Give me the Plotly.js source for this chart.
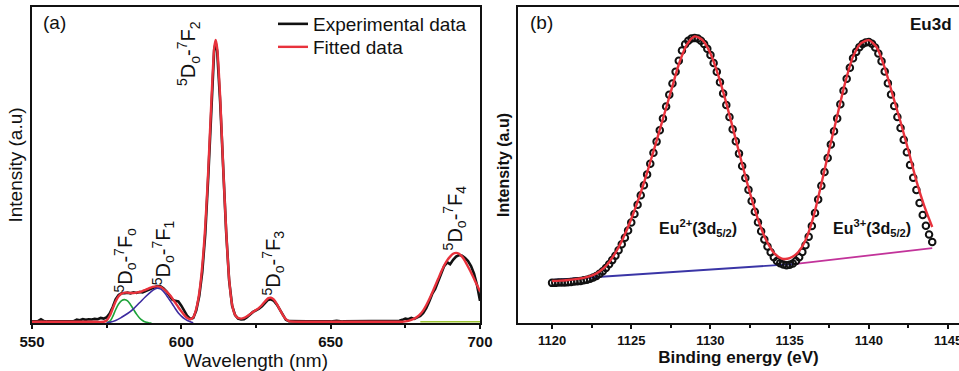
<!DOCTYPE html>
<html>
<head>
<meta charset="utf-8">
<script src="https://cdn.plot.ly/plotly-3.0.1.min.js"></script>
<style>html,body{margin:0;padding:0;background:#fff;}#chart{width:959px;height:371px;}</style>
</head>
<body>
<div id="chart"></div>
<script>
// ---------- Panel (a): PL spectrum ----------
const wlExp = [550,551,552,553,554,555,556,557,558,559,560,561,562,563,564,565,566,567,568,569,570,571,572,573,574,575,576,577,578,579,580,581,582,583,584,585,586,587,588,589,590,591,592,593,594,595,596,597,598,599,600,601,602,603,604,605,606,607,608,609,610,611,611.5,612,613,614,615,616,617,618,619,620,621,622,623,624,625,626,627,628,629,630,631,632,633,634,635,636,638,640,642,644,646,648,650,652,654,656,658,660,662,664,666,668,670,671,672,673,674,675,676,677,678,679,680,681,682,683,684,685,686,687,688,689,690,691,692,693,694,695,696,697,698,699,700];
const intExp = [0.005,0.005,0.006,0.012,0.006,0.005,0.005,0.005,0.005,0.005,0.005,0.005,0.005,0.005,0.006,0.011,0.009,0.012,0.010,0.012,0.011,0.013,0.012,0.016,0.014,0.018,0.030,0.050,0.075,0.089,0.094,0.094,0.096,0.094,0.097,0.095,0.098,0.097,0.101,0.104,0.108,0.113,0.117,0.116,0.110,0.100,0.088,0.074,0.070,0.068,0.055,0.038,0.022,0.013,0.016,0.040,0.085,0.160,0.280,0.460,0.680,0.865,0.886,0.860,0.700,0.480,0.290,0.135,0.055,0.025,0.014,0.011,0.012,0.018,0.027,0.035,0.040,0.045,0.053,0.064,0.073,0.075,0.070,0.058,0.043,0.024,0.010,0.006,0.005,0.006,0.005,0.005,0.006,0.005,0.005,0.007,0.005,0.005,0.005,0.005,0.006,0.005,0.005,0.005,0.005,0.006,0.005,0.007,0.010,0.014,0.012,0.016,0.013,0.018,0.022,0.032,0.047,0.068,0.092,0.108,0.132,0.160,0.180,0.192,0.186,0.200,0.210,0.215,0.213,0.206,0.196,0.180,0.156,0.120,0.070];

const wlFit = [550,560,570,574,575,576,577,578,579,580,581,582,583,584,585,586,587,588,589,590,591,592,593,594,595,596,597,598,599,600,601,602,603,604,605,606,607,608,609,610,611,611.5,612,613,614,615,616,617,618,619,620,621,622,623,624,625,626,627,628,629,630,631,632,633,634,635,636,640,650,660,670,674,675,676,677,678,679,680,681,682,683,684,685,686,687,688,689,690,691,692,693,694,695,696,697,698,699,700];
const intFit = [0.004,0.004,0.004,0.004,0.008,0.022,0.045,0.068,0.085,0.093,0.096,0.096,0.095,0.095,0.096,0.098,0.101,0.105,0.109,0.113,0.115,0.116,0.114,0.108,0.100,0.090,0.078,0.064,0.050,0.037,0.025,0.016,0.012,0.018,0.045,0.095,0.180,0.305,0.480,0.690,0.870,0.896,0.870,0.715,0.495,0.295,0.140,0.058,0.026,0.016,0.014,0.016,0.021,0.028,0.035,0.041,0.048,0.057,0.068,0.078,0.080,0.074,0.060,0.042,0.025,0.012,0.006,0.004,0.004,0.004,0.004,0.004,0.005,0.007,0.010,0.014,0.020,0.028,0.040,0.056,0.075,0.096,0.118,0.140,0.162,0.182,0.198,0.210,0.219,0.222,0.219,0.210,0.196,0.178,0.160,0.140,0.120,0.100];

// fitted components
const wlF0 = [575,576,577,578,579,580,581,582,583,584,585,586,587,588,589,590];
const intF0 = [0.001,0.005,0.020,0.042,0.060,0.071,0.074,0.070,0.058,0.043,0.028,0.016,0.008,0.003,0.001,0.000];
const wlF1 = [575,576,578,580,582,584,586,588,590,591,592,593,594,595,596,597,598,599,600,601,602,603,604];
const intF1 = [0.000,0.002,0.008,0.018,0.030,0.045,0.064,0.083,0.100,0.107,0.110,0.108,0.100,0.088,0.074,0.060,0.045,0.032,0.022,0.014,0.008,0.004,0.001];
const wlF4 = [680,690,700];
const intF4 = [0.004,0.004,0.004];

const labelsA = ['<sup>5</sup>D<sub>o</sub>-<sup>7</sup>F<sub>o</sub>','<sup>5</sup>D<sub>o</sub>-<sup>7</sup>F<sub>1</sub>','<sup>5</sup>D<sub>o</sub>-<sup>7</sup>F<sub>2</sub>','<sup>5</sup>D<sub>o</sub>-<sup>7</sup>F<sub>3</sub>','<sup>5</sup>D<sub>o</sub>-<sup>7</sup>F<sub>4</sub>'];
const labelAX = [581.2, 594.0, 602.4, 630.9, 691.4];
const labelAY = [0.198, 0.222, 0.853, 0.190, 0.332];

// ---------- Panel (b): XPS Eu3d ----------
const beExp = [1120.0,1120.2,1120.4,1120.6,1120.8,1121.0,1121.2,1121.4,1121.6,1121.8,1122.0,1122.2,1122.4,1122.6,1122.8,1123.0,1123.2,1123.4,1123.6,1123.8,1124.0,1124.2,1124.4,1124.6,1124.8,1125.0,1125.2,1125.4,1125.6,1125.8,1126.0,1126.2,1126.4,1126.6,1126.8,1127.0,1127.2,1127.4,1127.6,1127.8,1128.0,1128.2,1128.4,1128.6,1128.8,1129.0,1129.2,1129.4,1129.6,1129.8,1130.0,1130.2,1130.4,1130.6,1130.8,1131.0,1131.2,1131.4,1131.6,1131.8,1132.0,1132.2,1132.4,1132.6,1132.8,1133.0,1133.2,1133.4,1133.6,1133.8,1134.0,1134.2,1134.4,1134.6,1134.8,1135.0,1135.2,1135.4,1135.6,1135.8,1136.0,1136.2,1136.4,1136.6,1136.8,1137.0,1137.2,1137.4,1137.6,1137.8,1138.0,1138.2,1138.4,1138.6,1138.8,1139.0,1139.2,1139.4,1139.6,1139.8,1140.0,1140.2,1140.4,1140.6,1140.8,1141.0,1141.2,1141.4,1141.6,1141.8,1142.0,1142.2,1142.4,1142.6,1142.8,1143.0,1143.2,1143.4,1143.6,1143.8,1144.0];
const cpsExp = [0.127,0.127,0.128,0.128,0.128,0.129,0.130,0.131,0.132,0.133,0.135,0.137,0.140,0.144,0.149,0.156,0.164,0.174,0.186,0.199,0.213,0.230,0.249,0.270,0.293,0.318,0.345,0.374,0.404,0.436,0.470,0.504,0.539,0.574,0.610,0.647,0.685,0.722,0.758,0.795,0.830,0.862,0.882,0.893,0.900,0.902,0.900,0.893,0.883,0.868,0.848,0.823,0.795,0.762,0.726,0.690,0.652,0.613,0.575,0.536,0.497,0.459,0.422,0.386,0.352,0.319,0.290,0.264,0.242,0.224,0.208,0.196,0.189,0.185,0.183,0.184,0.188,0.196,0.208,0.225,0.246,0.273,0.307,0.348,0.391,0.434,0.478,0.522,0.565,0.607,0.647,0.692,0.735,0.773,0.808,0.838,0.858,0.873,0.883,0.888,0.889,0.884,0.872,0.853,0.828,0.796,0.759,0.723,0.687,0.652,0.617,0.580,0.540,0.500,0.460,0.421,0.380,0.342,0.308,0.280,0.256];

const beFit = [1120,1120.5,1121,1121.5,1122,1122.5,1123,1123.5,1124,1124.5,1125,1125.5,1126,1126.5,1127,1127.5,1128,1128.5,1129,1129.5,1130,1130.5,1131,1131.5,1132,1132.5,1133,1133.5,1134,1134.5,1135,1135.5,1136,1136.5,1137,1137.5,1138,1138.5,1139,1139.5,1140,1140.5,1141,1141.5,1142,1142.5,1143,1143.5,1144];
const cpsFit = [0.133,0.134,0.136,0.139,0.143,0.150,0.163,0.186,0.222,0.270,0.329,0.398,0.476,0.560,0.646,0.732,0.818,0.880,0.907,0.895,0.853,0.783,0.696,0.600,0.503,0.410,0.328,0.264,0.222,0.204,0.205,0.222,0.262,0.336,0.440,0.550,0.655,0.760,0.843,0.885,0.895,0.872,0.808,0.722,0.636,0.545,0.450,0.370,0.304];

const bgEu2X = [1120, 1135.4];
const bgEu2Y = [0.136, 0.187];
const bgEu3X = [1135.4, 1144];
const bgEu3Y = [0.187, 0.237];

const labelsB = ['Eu<sup>2+</sup>(3d<sub>5/2</sub>)', 'Eu<sup>3+</sup>(3d<sub>5/2</sub>)'];
const labelBX = [1129.2, 1140.2];
const labelBY = [0.30, 0.30];

const FONT = 'Liberation Sans, Arial, Helvetica, sans-serif';
const H = 371, W = 959;
const yDom = [(H-323)/H, (H-7)/H];

const traces = [
  {x: wlExp, y: intExp, xaxis:'x', yaxis:'y', type:'scatter', mode:'lines', name:'Experimental data',
   legend:'legend', line:{color:'#111111', width:2.6}},
  {x: wlFit, y: intFit, xaxis:'x', yaxis:'y', type:'scatter', mode:'lines', name:'Fitted data',
   legend:'legend2', line:{color:'#e8323c', width:2.4, shape:'spline', smoothing:0.6}},
  {x: wlF0, y: intF0, xaxis:'x', yaxis:'y', type:'scatter', mode:'lines', showlegend:false,
   line:{color:'#1fa33a', width:1.6, shape:'spline'}},
  {x: wlF1, y: intF1, xaxis:'x', yaxis:'y', type:'scatter', mode:'lines', showlegend:false,
   line:{color:'#3d2ba0', width:1.6, shape:'spline'}},
  {x: wlF4, y: intF4, xaxis:'x', yaxis:'y', type:'scatter', mode:'lines', showlegend:false,
   line:{color:'#9cc431', width:1.6}},
  {x: bgEu2X, y: bgEu2Y, xaxis:'x2', yaxis:'y2', type:'scatter', mode:'lines', showlegend:false,
   line:{color:'#3a35a6', width:1.8}},
  {x: bgEu3X, y: bgEu3Y, xaxis:'x2', yaxis:'y2', type:'scatter', mode:'lines', showlegend:false,
   line:{color:'#c2339a', width:1.8}},
  {x: beExp, y: cpsExp, xaxis:'x2', yaxis:'y2', type:'scatter', mode:'markers', showlegend:false,
   marker:{symbol:'circle-open', size:6.5, color:'#111111', line:{width:2, color:'#111111'}}},
  {x: beFit, y: cpsFit, xaxis:'x2', yaxis:'y2', type:'scatter', mode:'lines', showlegend:false,
   line:{color:'#e8323c', width:2.4, shape:'spline', smoothing:0.7}}
];

const annotations = [];
for (let i = 0; i < labelsA.length; i++) {
  annotations.push({x: labelAX[i], y: labelAY[i], xref:'x', yref:'y', text: labelsA[i], textangle:-90,
    showarrow:false, xanchor:'center', yanchor:'middle', font:{family:FONT, size:20, color:'#111'}});
}
for (let i = 0; i < labelsB.length; i++) {
  annotations.push({x: labelBX[i], y: labelBY[i], xref:'x2', yref:'y2', text: labelsB[i],
    showarrow:false, xanchor:'center', yanchor:'middle', font:{family:FONT, size:16, color:'#111', weight:'bold'}});
}
annotations.push({x: 54/W, y: 1-23/H, xref:'paper', yref:'paper', text:'(a)', showarrow:false,
  xanchor:'center', yanchor:'middle', font:{family:FONT, size:19, color:'#111'}});
annotations.push({x: 541/W, y: 1-22/H, xref:'paper', yref:'paper', text:'(b)', showarrow:false,
  xanchor:'center', yanchor:'middle', font:{family:FONT, size:19, color:'#111'}});
annotations.push({x: 931/W, y: 1-25/H, xref:'paper', yref:'paper', text:'<b>Eu3d</b>', showarrow:false,
  xanchor:'center', yanchor:'middle', font:{family:FONT, size:17, color:'#111'}});

const legendStyle = {xanchor:'left', yanchor:'top', bgcolor:'rgba(0,0,0,0)',
  font:{family:FONT, size:19, color:'#111'}, tracegroupgap:0};

const layout = {
  width: W, height: H,
  margin: {l:0, r:0, t:0, b:0},
  paper_bgcolor:'#ffffff', plot_bgcolor:'#ffffff',
  font: {family: FONT, color:'#111'},
  showlegend: true,
  legend: Object.assign({x: 273/W, y: 1-5/H}, legendStyle),
  legend2: Object.assign({x: 273/W, y: 1-28/H}, legendStyle),
  xaxis: {domain:[32/W, 480/W], range:[550,700], anchor:'y',
    tickmode:'array', tickvals:[550,600,650,700], ticktext:['550','600','650','700'],
    ticks:'outside', ticklen:4, tickwidth:2, tickcolor:'#111',
    minor:{tickmode:'array', tickvals:[575,625,675], ticks:'outside', ticklen:3, tickwidth:2, tickcolor:'#111', showgrid:false},
    showline:true, linewidth:2, linecolor:'#111', mirror:true, showgrid:false, zeroline:false,
    tickfont:{family:FONT, size:15, color:'#111', weight:'bold'},
    title:{text:'Wavelength (nm)', font:{family:FONT, size:19, color:'#111'}, standoff:0}},
  yaxis: {domain:yDom, range:[0,1], anchor:'x', showticklabels:false, ticks:'',
    showline:true, linewidth:2, linecolor:'#111', mirror:true, showgrid:false, zeroline:false,
    title:{text:'Intensity (a.u)', font:{family:FONT, size:19, color:'#111'}, standoff:2}},
  xaxis2: {domain:[518/W, 1], range:[1117.85, 1145.69], anchor:'y2',
    tickmode:'array', tickvals:[1120,1125,1130,1135,1140,1145], ticktext:['1120','1125','1130','1135','1140','1145'],
    ticklabeloverflow:'allow',
    ticks:'outside', ticklen:4, tickwidth:2, tickcolor:'#111',
    minor:{tickmode:'array', tickvals:[1122.5,1127.5,1132.5,1137.5,1142.5], ticks:'outside', ticklen:3, tickwidth:2, tickcolor:'#111', showgrid:false},
    showline:true, linewidth:2, linecolor:'#111', mirror:true, showgrid:false, zeroline:false,
    tickfont:{family:FONT, size:13, color:'#111', weight:'bold'},
    title:{text:'Binding energy (eV)', font:{family:FONT, size:17, color:'#111', weight:'bold'}, standoff:1}},
  yaxis2: {domain:yDom, range:[0,1], anchor:'x2', showticklabels:false, ticks:'',
    showline:true, linewidth:2, linecolor:'#111', mirror:false, showgrid:false, zeroline:false,
    title:{text:'Intensity (a.u)', font:{family:FONT, size:16, color:'#111', weight:'bold'}, standoff:2}},
  annotations: annotations
};

Plotly.newPlot('chart', traces, layout, {displayModeBar:false, staticPlot:true});
</script>
</body>
</html>
